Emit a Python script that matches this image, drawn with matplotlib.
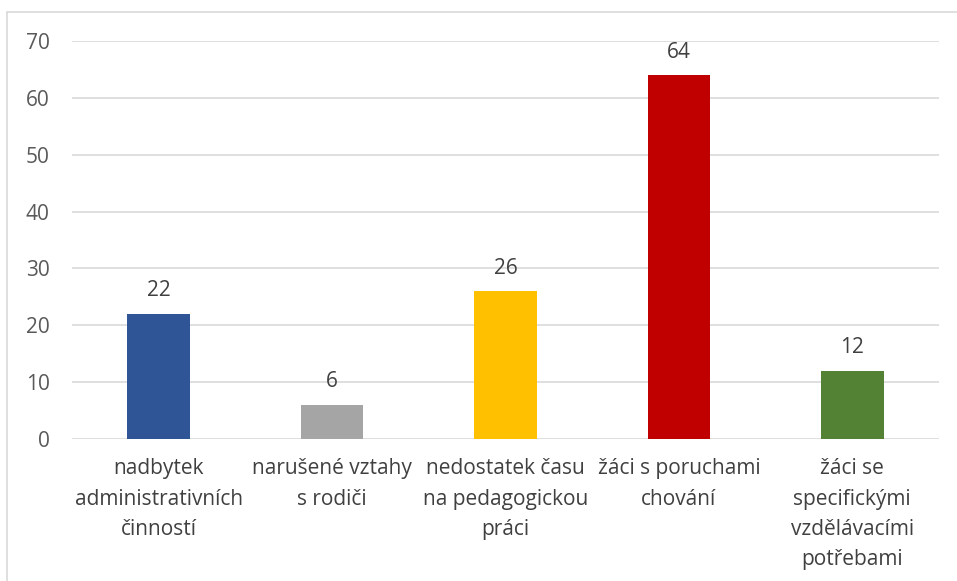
import matplotlib.pyplot as plt
from matplotlib.patches import Rectangle

categories = ['nadbytek\nadministrativních\nčinností',
              'narušené vztahy\ns rodiči',
              'nedostatek času\nna pedagogickou\npráci',
              'žáci s poruchami\nchování',
              'žáci se\nspecifickými\nvzdělávacími\npotřebami']
values = [22, 6, 26, 64, 12]
colors = ['#2F5597', '#A5A5A5', '#FFC000', '#C00000', '#548235']

plt.rcParams['font.family'] = ['Open Sans', 'DejaVu Sans']

fig = plt.figure(figsize=(9.57, 5.81), dpi=100)
ax = fig.add_axes([72/957, 1-439/581, (939-72)/957, (439-41)/581])

x = range(len(values))
ax.bar(x, values, width=0.36, color=colors, zorder=3)

# hodnoty nad sloupci
for a, b in zip(x, values):
    ax.text(a, b + 2.2, '%d' % b, ha='center', va='bottom', fontsize=15, color='#404040')

ax.set_ylim(0, 70)
ax.set_xlim(-0.5, len(values) - 0.5)
ax.set_yticks(range(0, 71, 10))
ax.set_xticks(list(x))
ax.set_xticklabels(categories, fontsize=15, color='#404040', va='top', linespacing=1.58)
ax.tick_params(axis='y', labelsize=15, labelcolor='#595959', length=0, pad=16)
ax.tick_params(axis='x', length=0, pad=14)
ax.grid(axis='y', color='#D9D9D9', linewidth=1.2, zorder=0)
for s in ax.spines.values():
    s.set_visible(False)

# ramecek grafu (vidět je levá a horní strana)
fig.patches.append(Rectangle((7/957, -0.5), 1.2, 1.5 - 12/581, transform=fig.transFigure,
                             fill=False, edgecolor='#D9D9D9', linewidth=1.2))

fig.savefig('out.png', dpi=100)
